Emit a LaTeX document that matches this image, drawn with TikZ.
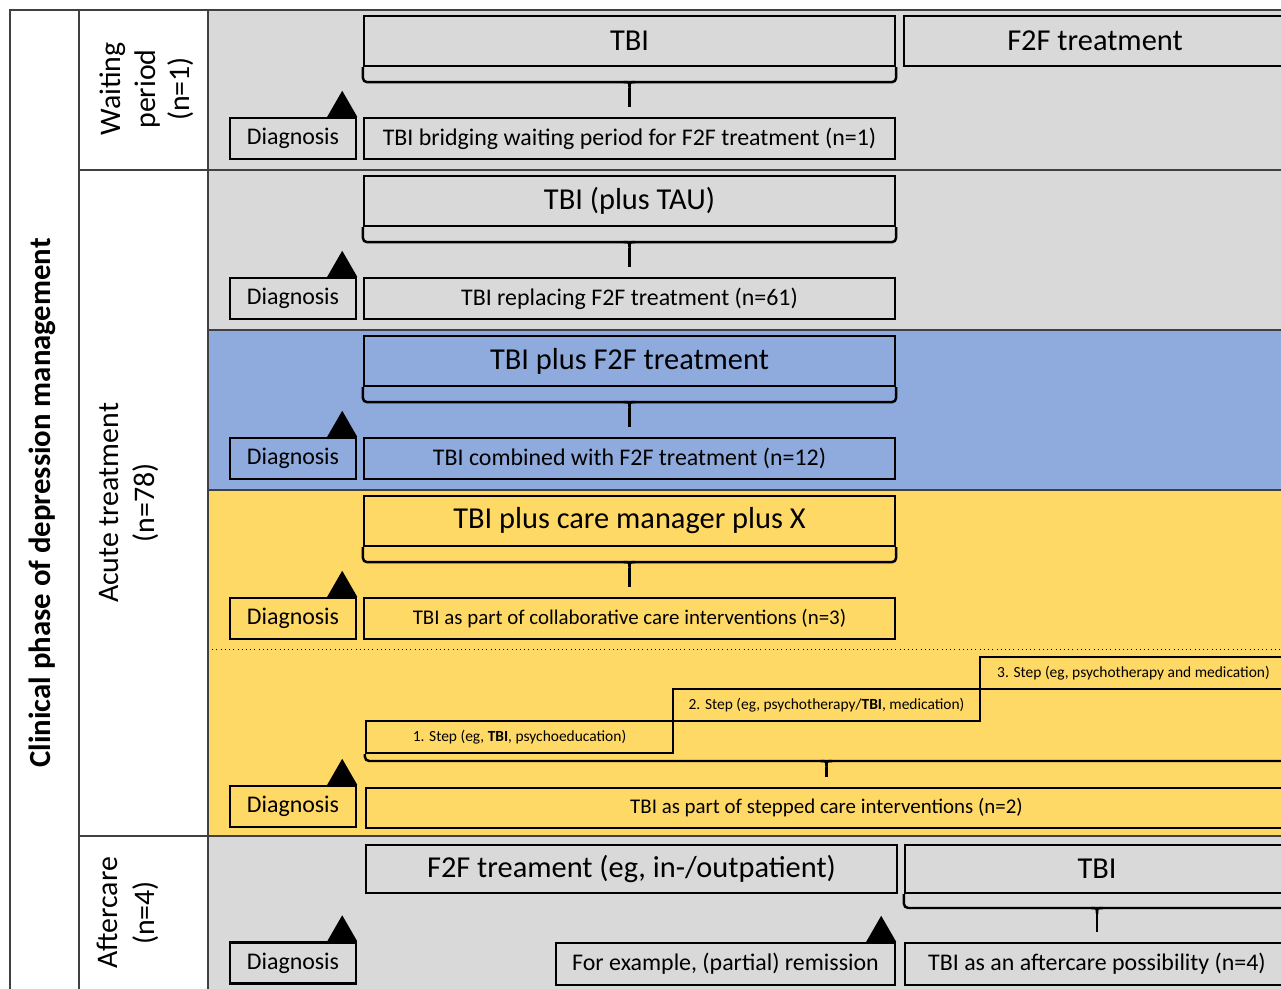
\documentclass[tikz,border=0pt]{standalone}
\usepackage{fontspec}
\setmainfont{Carlito}
\definecolor{grayband}{HTML}{D9D9D9}
\definecolor{blueband}{HTML}{8FAADC}
\definecolor{yellowband}{HTML}{FFD966}

\begin{document}
\begin{tikzpicture}[x=0.02cm, y=-0.02cm,
    every node/.style={font=\fontsize{13.6}{16}\selectfont, inner sep=0pt},
    tbox/.style={draw, line width=1.4pt},
    head/.style={tbox, minimum height=1cm, font=\fontsize{17.3}{20}\selectfont},
    body/.style={tbox, minimum height=0.82cm},
    diag/.style={tbox, minimum width=2.52cm, minimum height=0.82cm},
    stepbox/.style={tbox, minimum width=6.14cm, minimum height=0.64cm, font=\fontsize{8.8}{10}\selectfont},
    grid/.style={draw=black!75, line width=1pt},
    side/.style={rotate=90, align=center, font=\fontsize{17}{21}\selectfont}]
    \useasboundingbox (0,0) rectangle (1281,989);
    \clip (0,0) rectangle (1281,989);
    \fill[white] (0,0) rectangle (1281,989);
    % four bands with header, brace and body
    \foreach \n/\y/\col/\hd/\bd in {1/0/grayband/TBI/{TBI bridging waiting period for F2F treatment (n=1)},
        2/160/grayband/{TBI (plus TAU)}/{TBI replacing F2F treatment (n=61)},
        3/320/blueband/{TBI plus F2F treatment}/{TBI combined with F2F treatment (n=12)},
        4/480/yellowband/{TBI plus care manager plus X}/{\fontsize{11.9}{14}\selectfont TBI as part of collaborative care interventions (n=3)}}{
        \fill[\col] (208,{10+\y}) rectangle (1290,{170+\y});
        \node[head, minimum width=10.62cm] (h\n) at (629.5,{41+\y}) {\hd};
        \node[body, minimum width=10.62cm] (b\n) at (629.5,{138.5+\y}) {\bd};
        \node[diag] (d\n) at (293,{138.5+\y}) {Diagnosis};
        \fill (d\n.north east) -- ++(-30,0) -- ++(15,-26) -- cycle;
        \draw[line width=1.4pt, rounded corners=2.5pt] (h\n.south west) -- ++(0,15) -| (h\n.south east);
        \coordinate (t\n) at (629.5,{82+\y});
        \draw[line width=1.4pt] ([xshift=-0.12cm]t\n) .. controls (t\n) .. ([yshift=-0.12cm]t\n) .. controls (t\n) .. ([xshift=0.12cm]t\n);
        \draw[line width=1.4pt, shorten >=0.2cm] ([yshift=-0.12cm]t\n) -- (b\n);
    }
    \node[head, minimum width=7.64cm] (f2f) at (1095,41) {F2F treatment};
    % stepped care
    \fill[yellowband] (208,649) rectangle (1290,836);
    \draw[dotted] (208,649) -- (1290,649);
    \node[stepbox] (s1) at (519.5,737) {1. Step (eg, \textbf{TBI}, psychoeducation)};
    \node[stepbox] (s2) at (826.5,705) {2. Step (eg, psychotherapy/\textbf{TBI}, medication)};
    \node[stepbox] (s3) at (1133.5,673) {3. Step (eg, psychotherapy and medication)};
    \node[body, minimum width=18.42cm, minimum height=0.8cm, font=\fontsize{11.9}{14}\selectfont] (b5) at (826.5,808) {TBI as part of stepped care interventions (n=2)};
    \node[diag] (d5) at (293,806.5) {Diagnosis};
    \fill (d5.north east) -- ++(-30,0) -- ++(15,-26) -- cycle;
    \coordinate (e5) at (1300,761);
    \draw[line width=1.4pt, rounded corners=2.5pt] (s1.south west) |- (e5);
    \coordinate (t5) at (826.5,761);
    \draw[line width=1.4pt] ([xshift=-0.12cm]t5) .. controls (t5) .. ([yshift=-0.12cm]t5) .. controls (t5) .. ([xshift=0.12cm]t5);
    \draw[line width=1.4pt, shorten >=0.2cm] ([yshift=-0.12cm]t5) -- (b5);
    % aftercare
    \fill[grayband] (208,836) rectangle (1290,995);
    \node[head, minimum width=10.62cm, minimum height=0.96cm] (f2fa) at (631.5,869) {F2F treament (eg, in-/outpatient)};
    \node[head, minimum width=7.68cm, minimum height=0.96cm] (tbia) at (1097,869) {TBI};
    \coordinate (e6) at (1300,908);
    \draw[line width=1.4pt, rounded corners=2.5pt] (tbia.south west) |- (e6);
    \coordinate (t6) at (1097,908);
    \draw[line width=1.4pt] ([xshift=-0.12cm]t6) .. controls (t6) .. ([yshift=-0.12cm]t6) .. controls (t6) .. ([xshift=0.12cm]t6);
    \node[diag] (d6) at (293,963) {Diagnosis};
    \node[body, minimum width=6.78cm, minimum height=0.84cm] (rem) at (725.5,964) {For example, (partial) remission};
    \node[body, minimum width=7.68cm, minimum height=0.84cm] (after) at (1097,964) {TBI as an aftercare possibility (n=4)};
    \draw[line width=1.4pt, shorten >=0.2cm] ([yshift=-0.12cm]t6) -- (after);
    \fill (d6.north east) -- ++(-30,0) -- ++(15,-26) -- cycle;
    \fill (rem.north east) -- ++(-30,0) -- ++(15,-26) -- cycle;
    % table lines
    \draw[grid] (10,995) -- (10,10) -- (1290,10);
    \draw[grid] (79,10) -- (79,995);
    \draw[grid] (208,10) -- (208,995);
    \draw[grid] (79,170) -- (1290,170);
    \draw[grid] (79,836) -- (1290,836);
    \draw[grid] (208,330) -- (1290,330);
    \draw[grid] (208,490) -- (1290,490);
    % side labels
    \node[side, font=\bfseries\fontsize{17.5}{21}\selectfont] (phase) at (42,503) {Clinical phase of depression management};
    \node[side, font=\fontsize{17}{19.5}\selectfont] (wait) at (147,89) {Waiting\\period\\(n=1)};
    \node[side] (acute) at (129,503) {Acute treatment\\(n=78)};
    \node[side] (aftc) at (128,913) {Aftercare\\(n=4)};
\end{tikzpicture}
\end{document}
